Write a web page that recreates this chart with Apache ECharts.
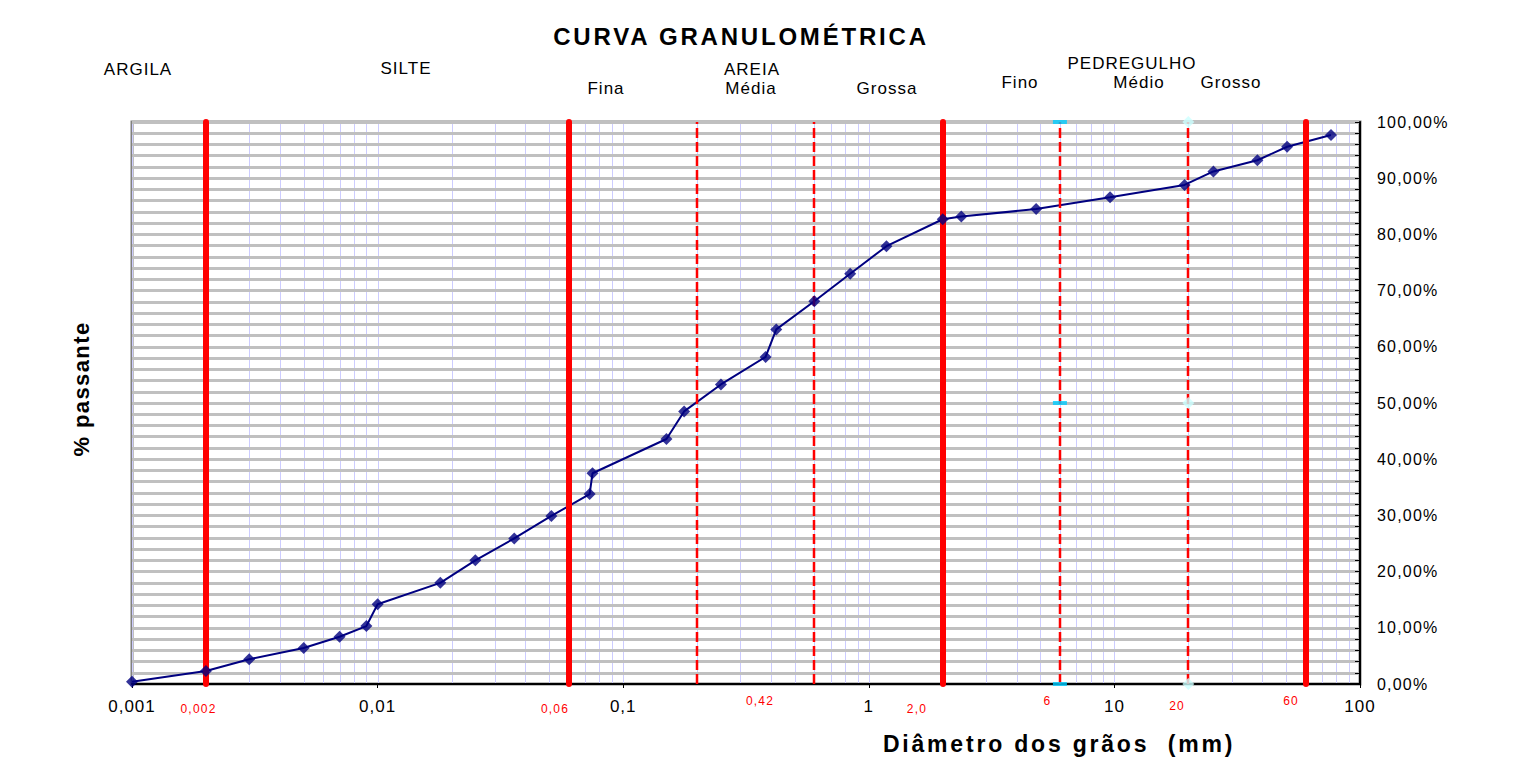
<!DOCTYPE html>
<html>
<head>
<meta charset="utf-8">
<script src="https://cdn.jsdelivr.net/npm/echarts@6.0.0/dist/echarts.min.js"></script>
<style>
html, body { margin: 0; padding: 0; background: #ffffff; }
#chart { width: 1521px; height: 770px; }
#chart text { white-space: pre; }
#chart text[style*="24px"] { letter-spacing: 2.8px; }
#chart text[style*="23px"] { letter-spacing: 2.8px; }
#chart text[style*="22px"] { letter-spacing: 1.4px; }
#chart text[style*="17px"] { letter-spacing: 1px; }
#chart text[style*="16px"] { letter-spacing: 1.2px; }
#chart text[style*="12px"] { letter-spacing: 1.2px; }
</style>
</head>
<body>
<div id="chart"></div>
<script>
// ---- Data ----
const diameters = [0.001, 0.002, 0.003, 0.005, 0.007, 0.009, 0.01, 0.018, 0.025, 0.036,
                   0.051, 0.073, 0.075, 0.15, 0.177, 0.25, 0.38, 0.42, 0.6, 0.84,
                   1.18, 2.0, 2.38, 4.8, 9.6, 19.3, 25.3, 38.2, 50.5, 76.2];
const passing = [0.4, 2.3, 4.4, 6.4, 8.4, 10.3, 14.2, 18.0, 22.0, 25.9,
                 29.9, 33.8, 37.5, 43.6, 48.5, 53.3, 58.2, 63.1, 68.1, 73.0,
                 77.9, 82.7, 83.2, 84.5, 86.6, 88.8, 91.2, 93.2, 95.6, 97.7];

const solidBoundaries = [0.002, 0.06, 2, 60];
const dashedBoundaries = [0.2, 0.6, 6, 20];
const rectMarkerX = [6, 6, 6];
const diamondMarkerX = [20, 20, 20];
const markerY = [0, 50, 100];

const decadeLabels = ['0,001', '0,01', '0,1', '1', '10', '100'];
const yTickLabels = ['0,00%', '10,00%', '20,00%', '30,00%', '40,00%', '50,00%',
                     '60,00%', '70,00%', '80,00%', '90,00%', '100,00%'];
const boundaryLabels = ['0,002', '0,06', '0,42', '2,0', '6', '20', '60'];
const zoneLabels = ['ARGILA', 'SILTE', 'Fina', 'AREIA', 'Média', 'Grossa',
                    'Fino', 'PEDREGULHO', 'Médio', 'Grosso'];
const titleText = 'CURVA GRANULOMÉTRICA';
const xName = 'Diâmetro dos grãos  (mm)';
const yName = '% passante';

// vertical log grid positions k*10^n
const gridXs = [];
for (let n = -3; n <= 1; n++) {
  for (let k = 1; k <= 9; k++) gridXs.push(+(k * Math.pow(10, n)).toPrecision(3));
}

const FONT = "'Liberation Sans', Arial, sans-serif";

function txt(text, x, y, size, weight, color, rot) {
  return {
    type: 'text', x: x, y: y, rotation: rot || 0, silent: true, z: 10,
    style: {
      text: text, fontSize: size, fontFamily: FONT, fontWeight: weight, fill: color,
      textAlign: 'center', textVerticalAlign: 'middle', align: 'center', verticalAlign: 'middle'
    }
  };
}

function vLine(color, width, dash, cap) {
  return function (params, api) {
    const v = api.value(0);
    const p1 = api.coord([v, 0]);
    const p2 = api.coord([v, 100]);
    const x = width === 1 ? Math.round(p1[0]) + 0.5 : Math.round(p1[0]);
    return {
      type: 'line',
      shape: { x1: x, y1: p1[1], x2: x, y2: p2[1] },
      style: { stroke: color, lineWidth: width, lineDash: dash, lineCap: cap }
    };
  };
}

const chart = echarts.init(document.getElementById('chart'), null, { renderer: 'svg' });

const option = {
  animation: false,
  backgroundColor: '#ffffff',
  grid: {
    left: 132, right: 161, top: 122, bottom: 86,
    containLabel: false, outerBoundsMode: 'none',
    show: true, borderColor: '#808080', borderWidth: 3, backgroundColor: 'transparent'
  },
  xAxis: {
    type: 'log', logBase: 10, min: 0.001, max: 100, z: 1,
    axisLine: { show: true, onZero: false, lineStyle: { color: '#000000', width: 2 } },
    axisTick: { show: true, length: 4, lineStyle: { color: '#000000', width: 1 } },
    minorTick: { show: false },
    splitLine: { show: false },
    axisLabel: {
      show: true, margin: 14, color: '#000000', fontSize: 17, fontFamily: FONT,
      formatter: function (v) { return decadeLabels[Math.round(Math.log10(v)) + 3]; }
    }
  },
  yAxis: {
    type: 'value', position: 'right', min: 0, max: 100, interval: 10, z: 1,
    axisLine: { show: true, lineStyle: { color: '#000000', width: 2 } },
    axisTick: { show: true, inside: true, length: 5, lineStyle: { color: '#000000', width: 1 } },
    minorTick: { show: true, splitNumber: 5, length: 5, lineStyle: { color: '#000000', width: 1 } },
    splitLine: { show: true, lineStyle: { color: '#c0c0c0', width: 3 } },
    minorSplitLine: { show: true, lineStyle: { color: '#c0c0c0', width: 3 } },
    axisLabel: {
      show: true, margin: 17, color: '#000000', fontSize: 16, fontFamily: FONT,
      formatter: function (v) { return yTickLabels[Math.round(v / 10)]; }
    }
  },
  series: [
    {
      type: 'custom', name: 'grade', z: 0, silent: true,
      data: gridXs.map(function (v) { return [v, 0]; }),
      encode: { x: 0, y: 1 },
      renderItem: vLine('#ccccff', 1, null, 'butt')
    },
    {
      type: 'line', name: 'curva', z: 2, silent: true, clip: false,
      data: diameters.map(function (d, i) { return [d, passing[i]]; }),
      showSymbol: false, symbol: 'none',
      lineStyle: { color: '#000080', width: 2 }
    },
    {
      type: 'custom', name: 'limites', z: 3, silent: true,
      data: solidBoundaries.map(function (v) { return [v, 0]; }),
      encode: { x: 0, y: 1 },
      renderItem: vLine('#ff0000', 6, null, 'round')
    },
    {
      type: 'custom', name: 'limites2', z: 3, silent: true,
      data: dashedBoundaries.map(function (v) { return [v, 0]; }),
      encode: { x: 0, y: 1 },
      renderItem: vLine('#ff0000', 2.5, [10, 4], 'butt')
    },
    {
      type: 'scatter', name: 'pontos', z: 4, silent: true, clip: false,
      data: diameters.map(function (d, i) { return [d, passing[i]]; }),
      symbol: 'diamond', symbolSize: 12,
      itemStyle: { color: '#000080' }
    },
    {
      type: 'scatter', name: 'm6', z: 5, silent: true, clip: false,
      data: rectMarkerX.map(function (x, i) { return [x, markerY[i]]; }),
      symbol: 'rect', symbolSize: [14, 4],
      itemStyle: { color: '#00ccff' }
    },
    {
      type: 'scatter', name: 'm20', z: 5, silent: true, clip: false,
      data: diamondMarkerX.map(function (x, i) { return [x, markerY[i]]; }),
      symbol: 'diamond', symbolSize: 12,
      itemStyle: { color: '#ccffff' }
    }
  ],
  graphic: [
    txt(titleText, 741, 36, 24, 'bold', '#000000'),
    txt(zoneLabels[0], 138, 69, 17, 'normal', '#000000'),
    txt(zoneLabels[1], 406, 68.5, 17, 'normal', '#000000'),
    txt(zoneLabels[2], 606, 88.5, 17, 'normal', '#000000'),
    txt(zoneLabels[3], 752, 69, 17, 'normal', '#000000'),
    txt(zoneLabels[4], 751, 88, 17, 'normal', '#000000'),
    txt(zoneLabels[5], 887, 88, 17, 'normal', '#000000'),
    txt(zoneLabels[6], 1020, 82.5, 17, 'normal', '#000000'),
    txt(zoneLabels[7], 1132, 63, 17, 'normal', '#000000'),
    txt(zoneLabels[8], 1139, 82.5, 17, 'normal', '#000000'),
    txt(zoneLabels[9], 1231, 82.5, 17, 'normal', '#000000'),
    txt(boundaryLabels[0], 198.5, 708.5, 12, 'normal', '#ff0000'),
    txt(boundaryLabels[1], 555, 708.5, 12, 'normal', '#ff0000'),
    txt(boundaryLabels[2], 760, 701, 12, 'normal', '#ff0000'),
    txt(boundaryLabels[3], 917, 709, 12, 'normal', '#ff0000'),
    txt(boundaryLabels[4], 1047.5, 701, 12, 'normal', '#ff0000'),
    txt(boundaryLabels[5], 1177, 706, 12, 'normal', '#ff0000'),
    txt(boundaryLabels[6], 1291, 701, 12, 'normal', '#ff0000'),
    txt(xName, 1059, 743.5, 23, 'bold', '#000000'),
    txt(yName, 81, 389, 22, 'bold', '#000000', Math.PI / 2)
  ]
};

chart.setOption(option);
</script>
</body>
</html>
